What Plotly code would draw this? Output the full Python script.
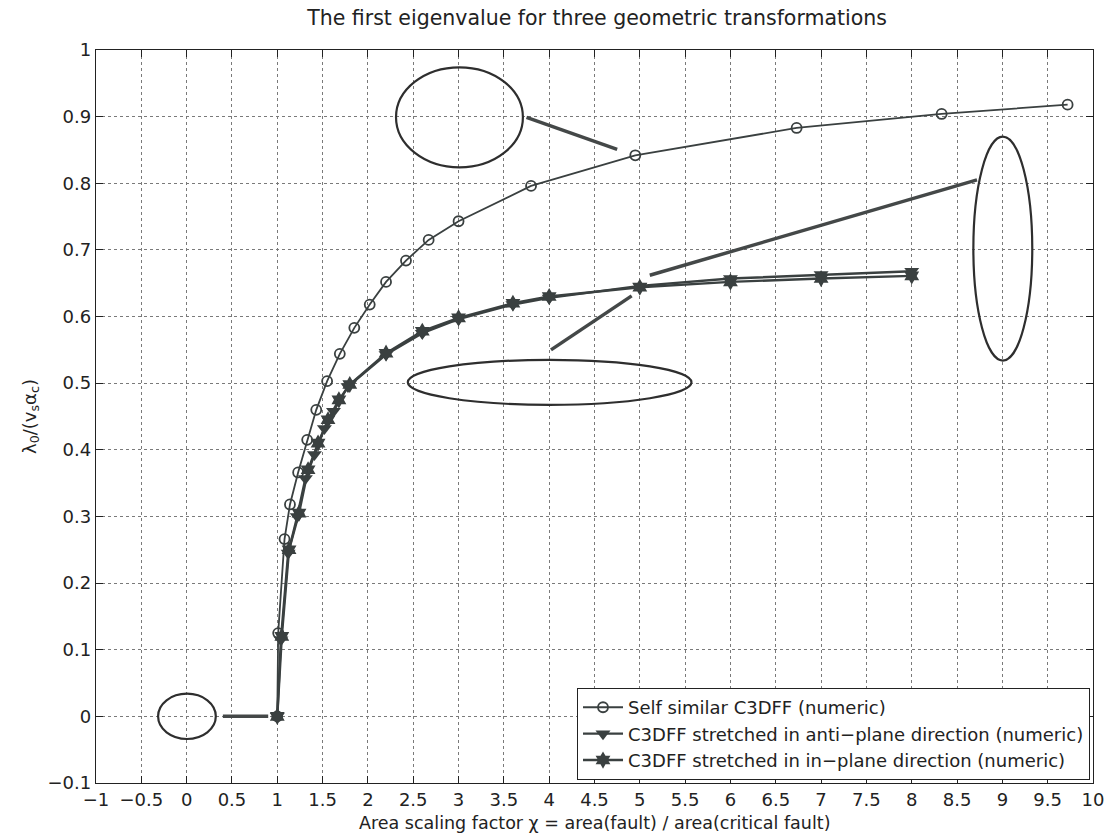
import plotly.graph_objects as go

# ---- data ----
self_x = [1.0, 1.01, 1.08, 1.14, 1.23, 1.33, 1.43, 1.55, 1.69, 1.85, 2.02, 2.20,
          2.42, 2.67, 3.0, 3.8, 4.95, 6.73, 8.33, 9.72]
self_y = [0.0, 0.125, 0.266, 0.318, 0.366, 0.415, 0.460, 0.503, 0.544, 0.583, 0.618, 0.652,
          0.684, 0.715, 0.743, 0.796, 0.842, 0.883, 0.904, 0.918]

anti_x = [1.0, 1.04, 1.12, 1.22, 1.31, 1.41, 1.52, 1.62, 1.78, 2.2, 2.6, 3.0, 3.6, 4.0,
          5.0, 6.0, 7.0, 8.0]
anti_y = [0.0, 0.115, 0.245, 0.300, 0.357, 0.393, 0.432, 0.458, 0.495, 0.543, 0.575, 0.596,
          0.618, 0.628, 0.646, 0.657, 0.663, 0.668]

inpl_x = [1.0, 1.05, 1.13, 1.24, 1.34, 1.45, 1.56, 1.68, 1.80, 2.2, 2.6, 3.0, 3.6, 4.0,
          5.0, 6.0, 7.0, 8.0]
inpl_y = [0.0, 0.120, 0.250, 0.305, 0.370, 0.410, 0.445, 0.475, 0.498, 0.545, 0.578, 0.598,
          0.620, 0.630, 0.644, 0.652, 0.657, 0.661]

names = ["Self similar C3DFF (numeric)",
         "C3DFF stretched in anti\u2212plane direction (numeric)",
         "C3DFF stretched in in\u2212plane direction (numeric)"]

x_title = "Area scaling factor \u03c7 = area(fault) / area(critical fault)"
y_title = "\u03bb<sub>0</sub>/(v<sub>s</sub>\u03b1<sub>c</sub>)"
main_title = "The first eigenvalue for three geometric transformations"

# annotation ellipses (x0, x1, y0, y1) and pointer lines (x0, y0, x1, y1) in data units
ellipses = [(-0.315, 0.322, -0.034, 0.034),
            (2.31, 3.71, 0.824, 0.974),
            (2.44, 5.57, 0.4675, 0.535),
            (8.68, 9.33, 0.534, 0.870)]
pointers = [(0.40, 0.0, 0.90, 0.0),
            (3.75, 0.899, 4.75, 0.851),
            (4.02, 0.550, 4.91, 0.631),
            (5.11, 0.662, 8.72, 0.805)]

LINE = "#3a4040"
TXT = "#222222"
FONT = "DejaVu Sans, Liberation Sans, sans-serif"
FS = 18

fig = go.Figure()
fig.add_trace(go.Scatter(x=self_x, y=self_y, name=names[0], mode="lines+markers",
                         line=dict(color=LINE, width=1.8),
                         marker=dict(symbol="circle-open", size=10, color=LINE,
                                     line=dict(width=1.8, color=LINE))))
fig.add_trace(go.Scatter(x=anti_x, y=anti_y, name=names[1], mode="lines+markers",
                         line=dict(color=LINE, width=2.4),
                         marker=dict(symbol="triangle-down", size=13, color=LINE)))
fig.add_trace(go.Scatter(x=inpl_x, y=inpl_y, name=names[2], mode="lines+markers",
                         line=dict(color=LINE, width=2.4),
                         marker=dict(symbol="hexagram", size=13, color=LINE)))

for (x0, x1, y0, y1) in ellipses:
    fig.add_shape(type="circle", xref="x", yref="y", x0=x0, x1=x1, y0=y0, y1=y1,
                  line=dict(color="#2e2e2e", width=2.2))
for (x0, y0, x1, y1) in pointers:
    fig.add_shape(type="line", xref="x", yref="y", x0=x0, y0=y0, x1=x1, y1=y1,
                  line=dict(color="#444848", width=3.5))

axis_common = dict(showline=True, linecolor=TXT, linewidth=1.3, mirror="allticks",
                   ticks="inside", ticklen=7, tickcolor=TXT, showgrid=True,
                   gridcolor="#7a7a7a", griddash="dot", gridwidth=1, zeroline=False,
                   tickfont=dict(family=FONT, size=FS, color=TXT))

fig.update_xaxes(range=[-1, 10], dtick=0.5, tick0=-1, **axis_common)
fig.update_yaxes(range=[-0.1, 1], dtick=0.1, tick0=0,
                 title=dict(text=y_title, font=dict(family=FONT, size=FS, color=TXT),
                            standoff=6),
                 **axis_common)

fig.add_annotation(text=x_title, xref="paper", yref="paper", x=0.5, y=0,
                   xanchor="center", yanchor="bottom", yshift=-51, borderpad=0,
                   showarrow=False, font=dict(family=FONT, size=17.5, color=TXT))

fig.update_layout(
    width=1116, height=834,
    margin=dict(l=96, r=16, t=50, b=51),
    paper_bgcolor="white", plot_bgcolor="white",
    title=dict(text=main_title, x=0.535, xanchor="center", y=0.979, yanchor="middle",
               font=dict(family=FONT, size=20.5, color=TXT)),
    legend=dict(x=0.997, y=0.004, xanchor="right", yanchor="bottom",
                bgcolor="white", bordercolor=TXT, borderwidth=1,
                font=dict(family=FONT, size=FS, color=TXT),
                tracegroupgap=0, itemwidth=40),
    showlegend=True,
)

fig.write_html("out.html", config={"displayModeBar": False},
               post_script="document.body.style.margin='0';document.body.style.overflow='hidden';")
